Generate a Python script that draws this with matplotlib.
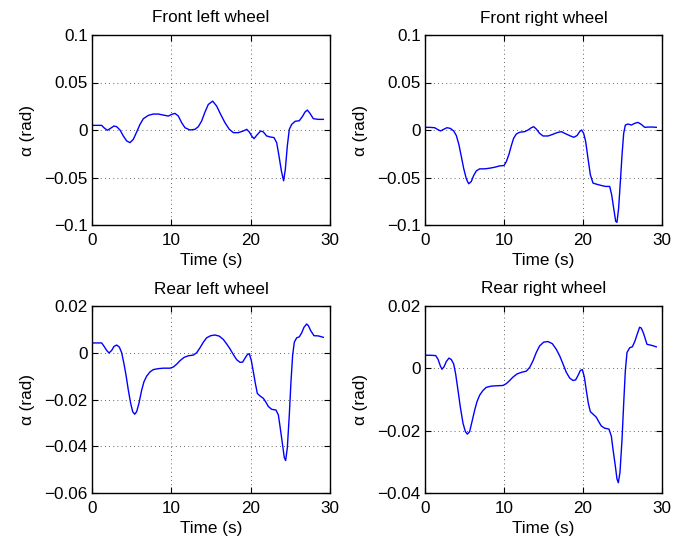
import matplotlib
matplotlib.use("Agg")
import matplotlib.pyplot as plt
from matplotlib.ticker import FuncFormatter, MultipleLocator

plt.rcParams['font.family'] = ['Liberation Sans', 'DejaVu Sans']
plt.rcParams['font.size'] = 12.3

# Slip angle traces per wheel (time in s, alpha in rad)
t_fl = [0, 0.02, 0.59, 1.22, 1.51, 1.93, 2.27, 2.77, 3.11, 3.53, 3.95, 4.37, 4.79,
        5.21, 5.63, 6.05, 6.47, 7.10, 7.73, 8.36, 8.99, 9.62, 10.04, 10.46, 10.88,
        11.30, 11.72, 12.35, 12.98, 13.40, 13.82, 14.24, 14.66, 15.21, 15.71, 16.22,
        16.76, 17.31, 17.82, 18.45, 19.08, 19.50, 19.83, 20.13, 20.42, 20.76, 21.26,
        21.60, 22.02, 22.44, 22.94, 23.28, 23.57, 23.87, 24.15, 24.37, 24.62, 24.87,
        25.17, 25.59, 26.13, 26.51, 26.85, 27.14, 27.48, 27.90, 28.53, 29.16]
a_fl = [0.049, 0.0049, 0.0049, 0.0049, 0.0024, -0.0003, 0.0014, 0.0042, 0.0035, 0.0,
        -0.0063, -0.0115, -0.0133, -0.0098, -0.0021, 0.0059, 0.0119, 0.0154, 0.0168,
        0.0168, 0.0157, 0.0147, 0.0164, 0.0175, 0.0147, 0.0077, 0.0024, 0.0, 0.0007,
        0.0035, 0.0094, 0.0189, 0.0269, 0.0304, 0.0252, 0.0164, 0.0077, 0.0007,
        -0.0028, -0.0028, -0.001, 0.0007, -0.0021, -0.0063, -0.0091, -0.0056, -0.001,
        -0.0021, -0.0063, -0.0073, -0.008, -0.0133, -0.0273, -0.043, -0.0535, -0.0413,
        -0.0168, 0.0007, 0.0059, 0.0091, 0.0098, 0.014, 0.0189, 0.021, 0.0175, 0.0119,
        0.0112, 0.0112]

t_fr = [0, 0.02, 0.59, 1.22, 1.65, 1.98, 2.36, 2.78, 3.21, 3.63, 3.97, 4.30, 4.60,
        4.89, 5.23, 5.53, 5.86, 6.16, 6.50, 6.92, 7.55, 8.19, 8.82, 9.45, 10.0, 10.30,
        10.63, 10.93, 11.22, 11.56, 11.98, 12.62, 13.04, 13.46, 13.76, 14.09, 14.51,
        14.94, 15.57, 16.20, 16.71, 17.26, 17.68, 18.31, 18.82, 19.24, 19.58, 19.83,
        20.08, 20.34, 20.63, 20.93, 21.27, 21.69, 22.32, 22.87, 23.38, 23.63, 23.88,
        24.14, 24.30, 24.51, 24.73, 24.94, 25.15, 25.36, 25.70, 26.12, 26.54, 26.96,
        27.38, 27.81, 28.23, 28.86, 29.28]
a_fr = [0.05, 0.0028, 0.0028, 0.0024, 0.0003, -0.001, 0.0007, 0.0024, 0.0017, -0.001,
        -0.0059, -0.0157, -0.028, -0.0402, -0.0514, -0.0566, -0.0542, -0.0479, -0.043,
        -0.0409, -0.0409, -0.0402, -0.0392, -0.0378, -0.0374, -0.0332, -0.0255,
        -0.0164, -0.0087, -0.0042, -0.0024, -0.0017, 0.0, 0.0024, 0.0035, 0.001,
        -0.0035, -0.0063, -0.0063, -0.0045, -0.0028, -0.0017, -0.0035, -0.0059,
        -0.0077, -0.0059, -0.0017, 0.0, -0.0035, -0.0122, -0.0297, -0.0472, -0.0559,
        -0.057, -0.0584, -0.0594, -0.0594, -0.0682, -0.0822, -0.0962, -0.0972, -0.0822,
        -0.0542, -0.0262, -0.0035, 0.0052, 0.0063, 0.0052, 0.007, 0.008, 0.0059, 0.0028,
        0.0031, 0.0031, 0.0028]

t_rl = [0, 0.59, 1.22, 1.51, 1.85, 2.14, 2.48, 2.77, 3.11, 3.45, 3.74, 4.03, 4.29,
        4.58, 4.87, 5.13, 5.38, 5.63, 5.92, 6.26, 6.55, 6.89, 7.31, 7.73, 8.36, 8.99,
        9.83, 10.25, 10.67, 11.09, 11.60, 12.14, 12.77, 13.19, 13.61, 14.03, 14.45,
        14.96, 15.50, 16.05, 16.55, 16.97, 17.39, 17.82, 18.24, 18.66, 18.99, 19.29,
        19.58, 19.83, 20.08, 20.34, 20.59, 20.84, 21.18, 21.60, 21.93, 22.23, 22.65,
        23.19, 23.49, 23.70, 23.99, 24.24, 24.41, 24.62, 24.87, 25.08, 25.29, 25.50,
        25.80, 26.13, 26.43, 26.72, 27.06, 27.27, 27.56, 27.98, 28.53, 29.16]
a_rl = [0.0042, 0.0042, 0.0042, 0.0028, 0.001, -0.0001, 0.001, 0.0027, 0.0033, 0.0024,
        0.0, -0.0047, -0.0096, -0.016, -0.0216, -0.0252, -0.0263, -0.0252, -0.0216,
        -0.016, -0.0124, -0.01, -0.0082, -0.0072, -0.0068, -0.0066, -0.0066, -0.0061,
        -0.0049, -0.0034, -0.002, -0.0013, -0.001, 0.0, 0.0021, 0.0045, 0.0064, 0.0073,
        0.0076, 0.0071, 0.0057, 0.0038, 0.0017, -0.0008, -0.003, -0.0041, -0.004,
        -0.0023, -0.0008, -0.0004, -0.0033, -0.0082, -0.0131, -0.0174, -0.0185,
        -0.0195, -0.0212, -0.023, -0.0242, -0.0245, -0.0266, -0.0315, -0.0386, -0.0449,
        -0.0461, -0.0407, -0.0266, -0.0124, -0.0011, 0.0045, 0.0064, 0.0068, 0.0085,
        0.0109, 0.0123, 0.0116, 0.0095, 0.0073, 0.0072, 0.0066]

t_rr = [0, 0.02, 0.59, 1.35, 1.65, 1.94, 2.15, 2.41, 2.70, 3.04, 3.33, 3.63, 3.88,
        4.18, 4.47, 4.81, 5.11, 5.36, 5.65, 5.95, 6.29, 6.58, 6.92, 7.34, 7.76, 8.40,
        9.03, 9.87, 10.30, 10.72, 11.14, 11.65, 12.19, 12.83, 13.25, 13.67, 14.09,
        14.51, 15.02, 15.57, 16.12, 16.62, 17.05, 17.47, 17.89, 18.31, 18.73, 19.07,
        19.37, 19.66, 19.92, 20.17, 20.42, 20.68, 20.93, 21.27, 21.69, 22.03, 22.32,
        22.74, 23.29, 23.59, 23.80, 24.09, 24.30, 24.47, 24.68, 24.94, 25.15, 25.36,
        25.57, 25.91, 26.24, 26.54, 26.84, 27.17, 27.38, 27.68, 28.10, 28.65, 29.28]
a_rr = [0.0054, 0.0042, 0.0042, 0.0041, 0.0029, 0.0008, -0.0003, 0.0005, 0.0022,
        0.0033, 0.0028, 0.0014, -0.0018, -0.0071, -0.0124, -0.0176, -0.0203, -0.0211,
        -0.0203, -0.0171, -0.0134, -0.0107, -0.0086, -0.0071, -0.0061, -0.0057,
        -0.0056, -0.0055, -0.0049, -0.0039, -0.0028, -0.0018, -0.0013, -0.0009, 0.0003,
        0.0024, 0.0051, 0.0072, 0.0084, 0.0086, 0.0079, 0.0061, 0.004, 0.0014, -0.0013,
        -0.0031, -0.0039, -0.0037, -0.0023, -0.0007, -0.0004, -0.0028, -0.0071,
        -0.0113, -0.0139, -0.0147, -0.0157, -0.0173, -0.0185, -0.0192, -0.0195,
        -0.0218, -0.026, -0.0313, -0.0355, -0.0367, -0.0334, -0.0228, -0.0113, -0.0007,
        0.0051, 0.0066, 0.0069, 0.0085, 0.0108, 0.0132, 0.0129, 0.0111, 0.0077, 0.0074,
        0.0069]

titles = ["Front left wheel", "Front right wheel", "Rear left wheel", "Rear right wheel"]
series = [(t_fl, a_fl), (t_fr, a_fr), (t_rl, a_rl), (t_rr, a_rr)]
ylims = [(-0.1, 0.1), (-0.1, 0.1), (-0.06, 0.02), (-0.04, 0.02)]
ysteps = [0.05, 0.05, 0.02, 0.02]

W, H = 682, 542
# axes boxes in pixels: left, top, right, bottom
boxes = [(92, 35, 330, 225), (425, 35, 662, 225),
         (92, 306, 330, 493), (425, 306, 662, 493)]

fig = plt.figure(figsize=(W / 100, H / 100), dpi=100)
fmt = FuncFormatter(lambda v, p: ("%g" % round(v, 6)).replace("-", "\u2212"))

for (l, tp, r, b), (t, a), title, yl, ys in zip(boxes, series, titles, ylims, ysteps):
    ax = fig.add_axes([l / W, 1 - b / H, (r - l) / W, (b - tp) / H])
    ax.plot(t, a, color=(0, 0, 1), lw=1.0)
    ax.set_xlim(0, 30)
    ax.set_ylim(*yl)
    ax.xaxis.set_major_locator(MultipleLocator(10))
    ax.yaxis.set_major_locator(MultipleLocator(ys))
    ax.yaxis.set_major_formatter(fmt)
    ax.grid(True, linestyle=(0, (1, 4)), color='black', lw=0.6, alpha=0.8)
    ax.tick_params(direction='in', length=4, width=0.8, top=True, right=True)
    ax.tick_params(axis='x', pad=6)
    ax.tick_params(axis='y', pad=3)
    for s in ax.spines.values():
        s.set_linewidth(1.0)
    ax.set_title(title, fontsize=12.3, pad=9)
    ax.set_xlabel("Time (s)", labelpad=3)
    ax.set_ylabel("\u03b1 (rad)", labelpad=7)

fig.savefig("out.png", dpi=100)
